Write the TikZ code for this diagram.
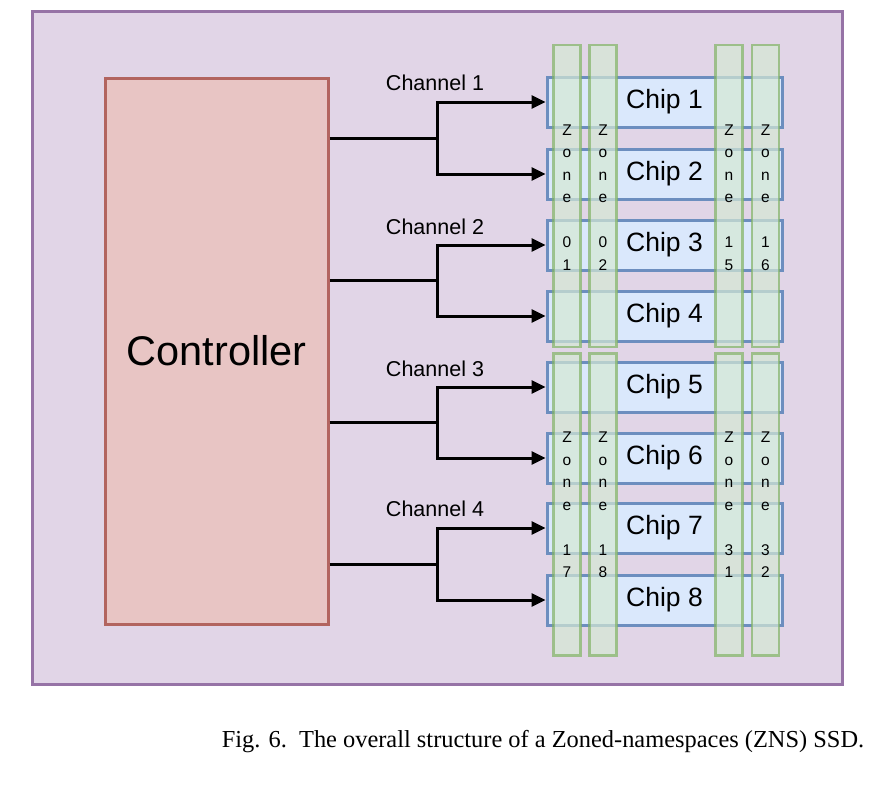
\documentclass[tikz,border=0pt]{standalone}
\usepackage{fontspec}
\setmainfont{Liberation Sans}
\newfontfamily\capfont{Liberation Serif}
\usetikzlibrary{arrows.meta}
\definecolor{bgfill}{HTML}{E1D5E7}
\definecolor{bgdraw}{HTML}{9673A6}
\definecolor{ctrlfill}{RGB}{232,197,196}
\definecolor{ctrldraw}{RGB}{178,100,95}
\definecolor{chipfill}{HTML}{DAE8FC}
\definecolor{chipdraw}{HTML}{6C8EBF}
\definecolor{zonefill}{HTML}{D5E8D4}
\definecolor{zonedraw}{HTML}{82B366}
\tikzset{
  chipbox/.style={draw=chipdraw, fill=chipfill, line width=3pt, minimum width=235pt, minimum height=50pt, inner sep=0pt},
  chiplabel/.style={font=\fontsize{26.5}{30}\selectfont},
  zonebox/.style={draw=zonedraw, fill=zonefill, draw opacity=0.7, fill opacity=0.7, line width=2.5pt, minimum width=27pt, minimum height=302pt, inner sep=0pt},
  zonetext/.style={font=\fontsize{15.5}{22.5}\selectfont, align=center, inner sep=0pt, text opacity=1},
  chlabel/.style={font=\fontsize{21.5}{24}\selectfont, inner sep=0pt},
  conn/.style={line width=3pt, -{Triangle[length=14pt,width=13pt]}},
  trunk/.style={line width=3pt},
}
\begin{document}
\begin{tikzpicture}[x=1pt,y=-1pt]
\useasboundingbox (0,0) rectangle (876,788);
\node[draw=bgdraw, fill=bgfill, line width=3pt, minimum width=810pt, minimum height=673pt, inner sep=0pt] (bg) at (437.5,347.5) {};
\node[draw=ctrldraw, fill=ctrlfill, line width=3pt, minimum width=223pt, minimum height=546pt, inner sep=0pt, font=\fontsize{41.5}{44}\selectfont] (ctrl) at (216.5,351) {Controller};
% chips
\foreach \i/\y in {1/102,2/174,3/245,4/316,5/387,6/458,7/528,8/600}{
  \node[chipbox] (chip\i) at (664.5,\y) {};
}
% channels
\foreach \c/\y/\a/\b/\ly in {1/138/1/2/83, 2/280.5/3/4/227, 3/422.5/5/6/369, 4/564/7/8/509}{
  \coordinate (j\c) at (437,\y);
  \node[chlabel] (ch\c) at (435,\ly) {Channel \c};
  \draw[trunk] (j\c -| ctrl.east) -- (j\c);
  \draw[conn] (j\c) |- (chip\a.west);
  \draw[conn] (j\c) |- (chip\b.west);
}
% zones
\foreach \k/\x in {1/567, 2/603, 3/729, 4/765.5}{
  \node[zonebox] (zt\k) at (\x,196) {};
  \node[zonebox] (zb\k) at (\x,504.5) {};
}
\foreach \k/\x/\la/\lb/\lc/\ld in {1/567/0/1/1/7, 2/603/0/2/1/8, 3/729/1/5/3/1, 4/765.5/1/6/3/2}{
  \node[zonetext] (ztl\k) at (\x,197.5) {Z\\o\\n\\e\\[22.5pt]\la\\\lb};
  \node[zonetext] (zbl\k) at (\x,505) {Z\\o\\n\\e\\[22.5pt]\lc\\\ld};
}
% chip labels
\foreach \i in {1,...,8}{
  \node[chiplabel] (cl\i) at (chip\i) {Chip \i};
}
\node[font=\capfont\fontsize{24.4}{28}\selectfont, inner sep=0pt] (cap) at (543,742) {Fig. 6.\enspace The overall structure of a Zoned-namespaces (ZNS) SSD.};
\end{tikzpicture}
\end{document}
